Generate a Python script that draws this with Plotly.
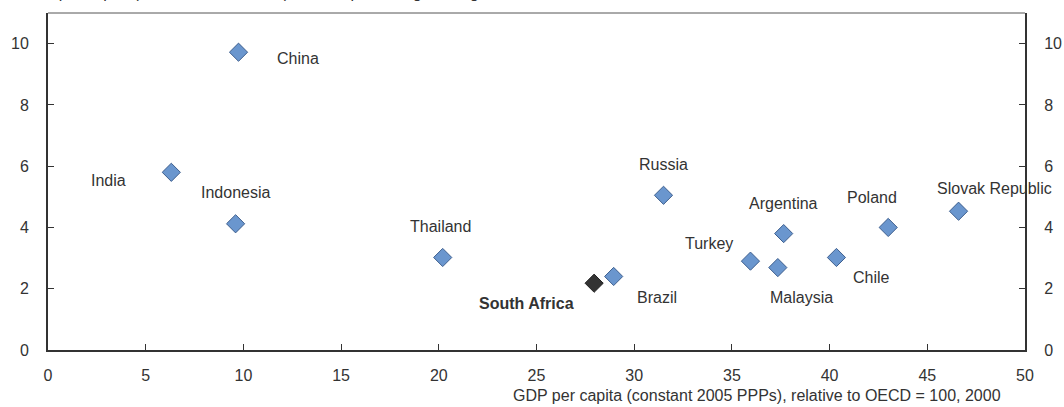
import plotly.graph_objects as go

countries = ["China", "India", "Indonesia", "Thailand", "South Africa", "Brazil", "Russia",
             "Turkey", "Malaysia", "Argentina", "Chile", "Poland", "Slovak Republic"]
gdp_level = [9.75, 6.31, 9.6, 20.2, 27.95, 28.95, 31.5, 35.95, 37.35, 37.65, 40.35, 43.0, 46.6]
gdp_growth = [9.72, 5.8, 4.12, 3.02, 2.18, 2.4, 5.05, 2.9, 2.69, 3.8, 3.02, 4.0, 4.53]
x_ticks = [0, 5, 10, 15, 20, 25, 30, 35, 40, 45, 50]
y_ticks = [0, 2, 4, 6, 8, 10]

# label offsets in pixels (styling)
label_offsets = {
    "China": (59, 6), "India": (-63, 8), "Indonesia": (0, -31), "Thailand": (-2, -31),
    "South Africa": (-68, 20), "Brazil": (43, 21), "Russia": (0, -31), "Turkey": (-41, -18),
    "Malaysia": (24, 30), "Argentina": (0, -30), "Chile": (35, 20), "Poland": (-16, -30),
    "Slovak Republic": (36, -23),
}

FONT = "Liberation Sans, Arial, sans-serif"
TXT = "#333333"
FS = 16

colors = ["#333333" if c == "South Africa" else "#6A96CE" for c in countries]
lines = ["#222222" if c == "South Africa" else "#3E5F8E" for c in countries]

fig = go.Figure()
fig.add_trace(go.Scatter(
    x=gdp_level, y=gdp_growth, mode="markers", text=countries,
    marker=dict(symbol="diamond", size=14, color=colors, line=dict(color=lines, width=1)),
    showlegend=False, hoverinfo="text+x+y",
))
# invisible trace for right axis
fig.add_trace(go.Scatter(x=[None], y=[None], yaxis="y2", showlegend=False))

annotations = []
for c, x, y in zip(countries, gdp_level, gdp_growth):
    dx, dy = label_offsets[c]
    txt = f"<b>{c}</b>" if c == "South Africa" else c
    annotations.append(dict(x=x, y=y, xref="x", yref="y", text=txt, showarrow=False,
                            xshift=dx, yshift=-dy, font=dict(size=FS, color=TXT, family=FONT)))

annotations.append(dict(x=1, y=0, xref="paper", yref="paper", xanchor="right", yanchor="top",
                        yshift=-35, xshift=-22,
                        text="GDP per capita (constant 2005 PPPs), relative to OECD = 100, 2000",
                        showarrow=False, font=dict(size=FS, color=TXT, family=FONT)))
annotations.append(dict(x=0, y=1, xref="paper", yref="paper", xanchor="left", yanchor="bottom",
                        yshift=10, xshift=-30,
                        text="GDP per capita (constant 2005 PPPs), annual percentage change, 2000-11",
                        showarrow=False, font=dict(size=FS, color=TXT, family=FONT)))

axis_common = dict(showgrid=False, zeroline=False, ticks="inside", ticklen=6, tickwidth=1,
                   tickcolor="#333333", showline=True, linecolor="#333333", linewidth=2,
                   automargin=False, tickfont=dict(size=FS, color=TXT, family=FONT))

fig.update_layout(
    width=1064, height=407,
    margin=dict(l=48, r=39, t=13, b=57),
    paper_bgcolor="white", plot_bgcolor="white",
    xaxis=dict(range=[0, 50], tickvals=x_ticks, ticklabelstandoff=10, **axis_common),
    yaxis=dict(range=[0, 11], tickvals=y_ticks, ticklabelstandoff=14, **axis_common),
    yaxis2=dict(range=[0, 11], tickvals=y_ticks, overlaying="y", side="right",
                ticklabelstandoff=14, **axis_common),
    annotations=annotations,
    shapes=[dict(type="line", xref="paper", yref="paper", x0=0, x1=1, y0=1, y1=1,
                 line=dict(color="#555555", width=1))],
)

fig.write_html("out.html", config={"displayModeBar": False},
               post_script="document.body.style.margin='0px';")
